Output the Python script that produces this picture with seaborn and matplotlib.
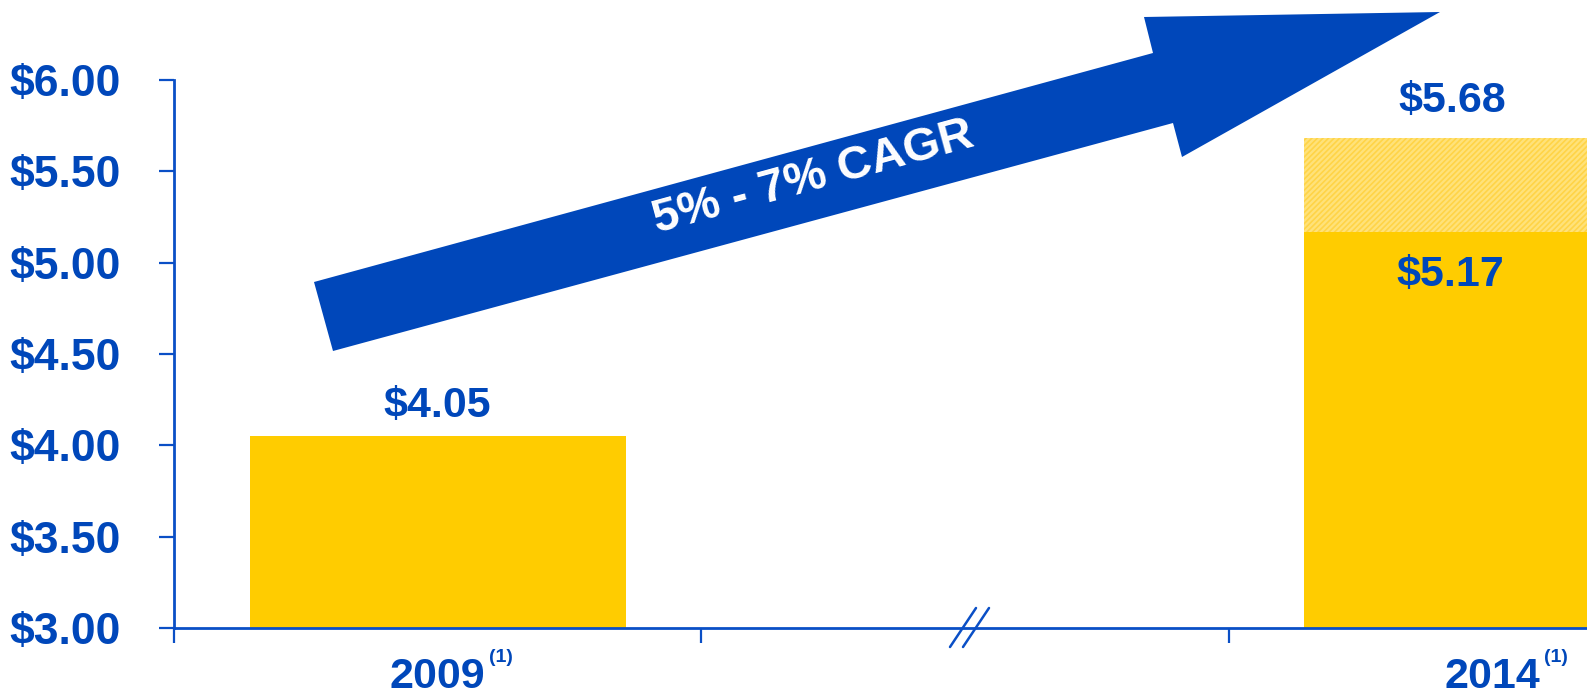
import numpy as np
import pandas as pd
import matplotlib
matplotlib.use("Agg")
import matplotlib.pyplot as plt
from matplotlib.patches import Polygon
import seaborn as sns

sns.set_style("white")
plt.rcParams['font.family'] = ['Liberation Sans', 'DejaVu Sans']
plt.rcParams['font.weight'] = 'bold'
plt.rcParams['hatch.linewidth'] = 1.2

# Data
years = ["2009", "", "2014"]
base_vals = [4.05, np.nan, 5.17]
high_vals = [np.nan, np.nan, 5.68]
base_labels = ["$4.05", "", "$5.17"]
high_labels = ["", "", "$5.68"]
y_ticks = [3.0, 3.5, 4.0, 4.5, 5.0, 5.5, 6.0]
y_ticklabels = ["$3.00", "$3.50", "$4.00", "$4.50", "$5.00", "$5.50", "$6.00"]
cagr_text = "5% - 7% CAGR"

BLUE = "#0047BA"
AXBLUE = "#0A4FC6"
YELLOW = "#FFCC00"
PALE = "#FFE27A"

W, H = 1587, 698
fig = plt.figure(figsize=(W / 100, H / 100), dpi=100)
ax = fig.add_axes([174 / W, 1 - 628 / H, (1756 - 174) / W, 548 / H])

df_high = pd.DataFrame({"year": years, "value": high_vals}).dropna()
df_base = pd.DataFrame({"year": years, "value": base_vals}).dropna()

sns.barplot(data=df_high, x="year", y="value", order=years, ax=ax,
            color=PALE, width=0.713, saturation=1, edgecolor="#FFD447",
            linewidth=0, hatch="//////")
sns.barplot(data=df_base, x="year", y="value", order=years, ax=ax,
            color=YELLOW, width=0.713, saturation=1, linewidth=0)

ax.set_xlim(-0.5, 2.5)
ax.set_ylim(3.0, 6.0)
ax.set_xlabel("")
ax.set_ylabel("")

ax.set_yticks(y_ticks)
ax.set_yticklabels(y_ticklabels, fontsize=32, fontweight="bold", color=BLUE)
ax.set_xticks([-0.5, 0.5, 1.5, 2.5])
ax.set_xticklabels([])
ax.tick_params(axis="y", left=True, direction="out", length=11, width=1.6,
               color=AXBLUE, pad=27)
ax.tick_params(axis="x", bottom=True, direction="out", length=11, width=1.6,
               color=AXBLUE)

for side in ["top", "right"]:
    ax.spines[side].set_visible(False)
for side in ["left", "bottom"]:
    ax.spines[side].set_color(AXBLUE)
    ax.spines[side].set_linewidth(2)

# category labels with superscript notes
trans = ax.get_xaxis_transform()
for i, yr in enumerate(years):
    if not yr:
        continue
    ax.text(i, -0.09, yr, transform=trans, ha="center", va="center",
            fontsize=31, fontweight="bold", color=BLUE)
    ax.annotate("(1)", xy=(i, -0.09), xycoords=trans, xytext=(37, 14),
                textcoords="offset points", ha="left", va="center",
                fontsize=14, fontweight="bold", color=BLUE)

# value labels
for i in range(len(years)):
    if base_labels[i]:
        off = 0 if i == 0 else -0.08
        yoff = 22 if i == 0 else -31
        ax.annotate(base_labels[i], xy=(i + off, base_vals[i]), xytext=(0, yoff),
                    textcoords="offset points", ha="center", va="center",
                    fontsize=31, fontweight="bold", color=BLUE)
    if high_labels[i]:
        ax.annotate(high_labels[i], xy=(i - 0.075, high_vals[i]), xytext=(0, 27),
                    textcoords="offset points", ha="center", va="center",
                    fontsize=31, fontweight="bold", color=BLUE, annotation_clip=False)

# axis break marks
x0, y0 = ax.transData.transform((1.0, 3.0))
for c in [-2, 11]:
    fig.add_artist(plt.Line2D([(x0 + c - 13) / W, (x0 + c + 13) / W],
                              [(y0 - 19) / H, (y0 + 20) / H],
                              transform=fig.transFigure, color=AXBLUE, lw=1.8))

# growth arrow
pts = [(314, 282), (1153, 53), (1144, 17), (1440, 12), (1182, 157), (1173, 123), (333, 351)]
arrow = Polygon([(px / W, 1 - py / H) for px, py in pts], closed=True,
                transform=fig.transFigure, facecolor=BLUE, edgecolor="none")
fig.add_artist(arrow)
fig.text(813 / W, 1 - 178 / H, cagr_text, rotation=15.3, rotation_mode="anchor",
         ha="center", va="center", fontsize=34, fontweight="bold", color="white")

fig.savefig("out.png", dpi=100)
